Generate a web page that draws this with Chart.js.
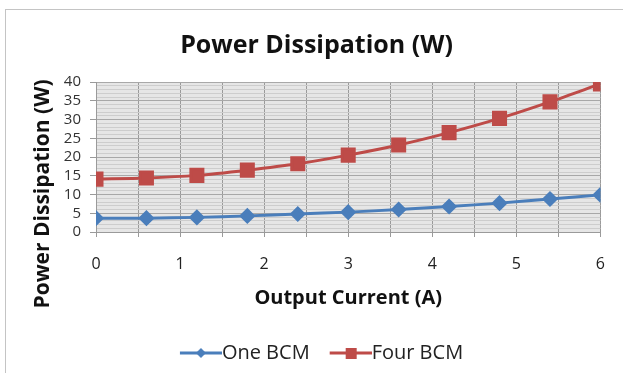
<!DOCTYPE html>
<html>
<head>
<meta charset="utf-8">
<script src="https://cdn.jsdelivr.net/npm/chart.js@4"></script>
<style>
    html, body { margin: 0; padding: 0; background: #fff; overflow: hidden; }
    #frame { position: absolute; left: 5px; top: 9px; width: 700px; height: 450px; border: 1px solid #c4c4c4; }
    #wrap { position: absolute; left: 0; top: 0; width: 623px; height: 373px; }
</style>
</head>
<body>
<div id="frame"></div>
<div id="wrap"><canvas id="chart" width="623" height="373"></canvas></div>
<script>
const currents = [0, 0.6, 1.2, 1.8, 2.4, 3.0, 3.6, 4.2, 4.8, 5.4, 6.0];
const oneBcm = [3.7, 3.7, 3.9, 4.3, 4.8, 5.3, 6.0, 6.8, 7.7, 8.8, 9.9];
const fourBcm = [14.1, 14.4, 15.1, 16.5, 18.2, 20.5, 23.2, 26.5, 30.3, 34.7, 39.5];
const seriesNames = ["One BCM", "Four BCM"];
const seriesColors = ["#4a7ebb", "#be4b48"];
const yTitle = "Power Dissipation (W)";

const fontFamily = "'Open Sans', sans-serif";

// legend symbol: line with the marker on it, left part kept empty for spacing
function legendSymbol(color, shape) {
    const c = document.createElement("canvas");
    c.width = 62;
    c.height = 16;
    const ctx = c.getContext("2d");
    ctx.strokeStyle = color;
    ctx.lineWidth = 3;
    ctx.beginPath();
    ctx.moveTo(20, 8);
    ctx.lineTo(62, 8);
    ctx.stroke();
    ctx.fillStyle = color;
    if (shape === "diamond") {
        ctx.beginPath();
        ctx.moveTo(41, 3);
        ctx.lineTo(46, 8);
        ctx.lineTo(41, 13);
        ctx.lineTo(36, 8);
        ctx.closePath();
        ctx.fill();
    } else {
        ctx.fillRect(36, 3, 11, 11);
    }
    return c;
}

const plotBackground = {
    id: "plotBackground",
    beforeDraw(chart) {
        const { ctx, chartArea } = chart;
        ctx.save();
        ctx.fillStyle = "#e6e6e6";
        ctx.fillRect(chartArea.left, chartArea.top, chartArea.width, chartArea.height);
        ctx.restore();
    }
};

// the y title sits lower than the plot centre in the original, so it is drawn here
const yAxisTitle = {
    id: "yAxisTitle",
    afterDraw(chart) {
        const ctx = chart.ctx;
        ctx.save();
        ctx.translate(43, 194);
        ctx.rotate(-Math.PI / 2);
        ctx.font = "bold 21px " + fontFamily;
        ctx.fillStyle = "#111";
        ctx.textAlign = "center";
        ctx.textBaseline = "middle";
        ctx.fillText(yTitle, 0, 0);
        ctx.restore();
    }
};

const symbols = [legendSymbol(seriesColors[0], "diamond"), legendSymbol(seriesColors[1], "square")];

new Chart(document.getElementById("chart"), {
    type: "line",
    data: {
        datasets: [
            {
                label: seriesNames[0],
                data: currents.map((x, i) => ({ x: x, y: oneBcm[i] })),
                borderColor: seriesColors[0],
                backgroundColor: seriesColors[0],
                borderWidth: 3,
                pointStyle: "rectRot",
                pointRadius: 6,
                tension: 0.3
            },
            {
                label: seriesNames[1],
                data: currents.map((x, i) => ({ x: x, y: fourBcm[i] })),
                borderColor: seriesColors[1],
                backgroundColor: seriesColors[1],
                borderWidth: 3,
                pointStyle: "rect",
                pointRadius: 8.5,
                tension: 0.3
            }
        ]
    },
    options: {
        responsive: false,
        animation: false,
        layout: { padding: { left: 30, right: 20, top: 0, bottom: 0 } },
        plugins: {
            title: {
                display: true,
                text: "Power Dissipation (W)",
                color: "#111",
                font: { family: fontFamily, size: 25, weight: "bold" },
                padding: { top: 31, bottom: 21 }
            },
            legend: {
                position: "bottom",
                labels: {
                    color: "#222",
                    font: { family: fontFamily, size: 20 },
                    usePointStyle: true,
                    pointStyleWidth: 42,
                    padding: 10,
                    generateLabels(chart) {
                        return chart.data.datasets.map((ds, i) => ({
                            text: ds.label,
                            pointStyle: symbols[i],
                            fillStyle: ds.borderColor,
                            strokeStyle: ds.borderColor,
                            fontColor: "#222",
                            lineWidth: 0,
                            datasetIndex: i,
                            hidden: false
                        }));
                    }
                }
            },
            tooltip: { enabled: false }
        },
        scales: {
            x: {
                type: "linear",
                min: 0,
                max: 6,
                afterFit(scale) { scale.height = 101; },
                afterBuildTicks(scale) {
                    const ticks = [];
                    for (let v = 0; v <= 12; v++) ticks.push({ value: v / 2 });
                    scale.ticks = ticks;
                },
                ticks: {
                    autoSkip: false,
                    maxRotation: 0,
                    color: "#222",
                    padding: 18,
                    font: { family: fontFamily, size: 16 },
                    callback(value) {
                        return Number.isInteger(value) ? value : "";
                    }
                },
                grid: {
                    color: "#9a9a9a",
                    lineWidth: 1,
                    tickLength: 5,
                    tickColor: "#9a9a9a"
                },
                border: { color: "#9a9a9a" },
                title: {
                    display: true,
                    text: "Output Current (A)",
                    color: "#111",
                    font: { family: fontFamily, size: 20, weight: "bold" },
                    padding: { top: 0, bottom: 23 }
                }
            },
            y: {
                min: 0,
                max: 40,
                afterFit(scale) { scale.width = 66; },
                afterBuildTicks(scale) {
                    const ticks = [];
                    for (let v = 0; v <= 40; v++) ticks.push({ value: v });
                    scale.ticks = ticks;
                },
                ticks: {
                    autoSkip: false,
                    color: "#333",
                    padding: 9,
                    font: { family: fontFamily, size: 15 },
                    callback(value) {
                        return value % 5 === 0 ? value : "";
                    }
                },
                grid: {
                    color(ctx) {
                        return ctx.tick && ctx.tick.value % 5 === 0 ? "#a8a8a8" : "#cdcdcd";
                    },
                    lineWidth: 1,
                    tickLength: 6,
                    tickColor(ctx) {
                        return ctx.tick && ctx.tick.value % 5 === 0 ? "#9a9a9a" : "rgba(0,0,0,0)";
                    }
                },
                border: { color: "#9a9a9a" }
            }
        }
    },
    plugins: [plotBackground, yAxisTitle]
});
</script>
</body>
</html>
